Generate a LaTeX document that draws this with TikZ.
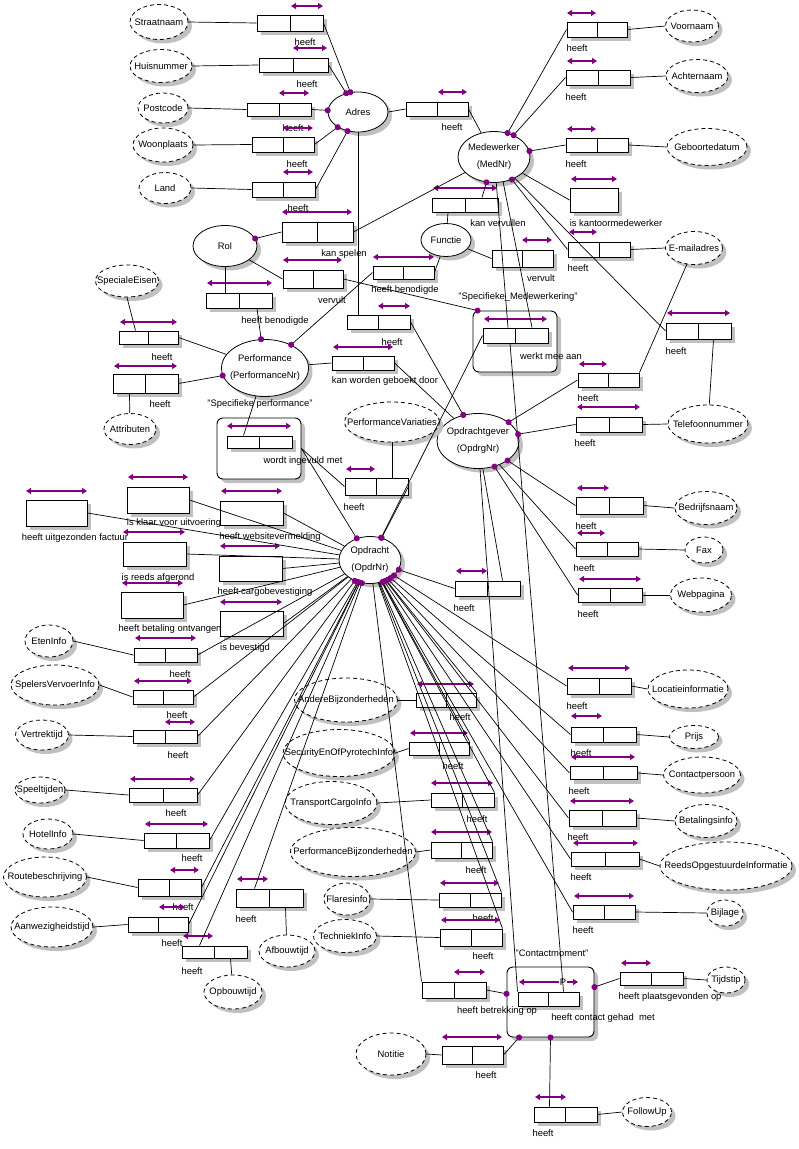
\documentclass[tikz,border=0pt]{standalone}
\usepackage{fontspec}
\setmainfont{Liberation Sans}
\usetikzlibrary{arrows.meta, shapes.geometric, shadows}
\definecolor{ormpurple}{RGB}{128,0,128}
\definecolor{ormshadow}{RGB}{192,192,192}
\newcommand{\nm}[1]{\makebox[0pt]{#1}}

\begin{document}
\begin{tikzpicture}[x=1pt, y=-1pt, wh/.style 2 args={minimum width=#1pt, minimum height=#2pt}]

    % Define block styles
    \tikzstyle{shadowed} = [drop shadow={shadow xshift=4pt, shadow yshift=-4pt, fill=ormshadow, opacity=1}]
    \tikzstyle{entitytype} = [ellipse, draw, fill=white, line width=0.8pt, inner sep=0pt,
        align=center, font=\fontsize{9.4}{17}\selectfont, shadowed]
    \tikzstyle{valuetype} = [entitytype, dash pattern=on 4pt off 3pt]
    \tikzstyle{fact} = [rectangle, draw, fill=white, line width=1pt, inner sep=0pt, shadowed,
        path picture={\draw [line width=1pt] (path picture bounding box.north) -- (path picture bounding box.south);}]
    \tikzstyle{unary} = [rectangle, draw, fill=white, line width=1pt, inner sep=0pt, shadowed]
    \tikzstyle{objfact} = [rectangle, draw, fill=white, rounded corners=6pt, line width=0.9pt, shadowed]
    \tikzstyle{lbl} = [inner sep=0pt, font=\fontsize{9.4}{10}\selectfont]
    \tikzstyle{uc} = [draw=ormpurple, line width=1.2pt, >={Triangle[length=5pt, width=6pt]}, <->]
    \tikzstyle{line} = [draw, line width=0.7pt]
    \tikzstyle{mand} = [line, arrows={-Circle[length=6pt, color=ormpurple, fill=ormpurple]}, shorten >=-3pt]

    \fill [white] (0,0) rectangle (799,1149);
    \useasboundingbox (0,0) rectangle (799,1149);

    % Entity types
    \node [entitytype, wh={60}{40}] (adres) at (358,112) {\nm{Adres}};
    \node [entitytype, wh={72}{51}] (medewerker) at (494,157) {\nm{Medewerker}\\\nm{(MedNr)}};
    \node [entitytype, wh={64}{41}] (rol) at (225,246) {\nm{Rol}};
    \node [entitytype, wh={50}{33}] (functie) at (446,240) {\nm{Functie}};
    \node [entitytype, wh={87}{57}] (performance) at (265,368) {\nm{Performance}\\\nm{(PerformanceNr)}};
    \node [entitytype, wh={82}{55}] (opdrachtgever) at (478,441) {\nm{Opdrachtgever}\\\nm{(OpdrgNr)}};
    \node [entitytype, wh={62}{47}] (opdracht) at (370,560) {\nm{Opdracht}\\\nm{(OpdrNr)}};

    % Value types
    \node [valuetype, wh={58}{35}] (vStraat) at (159,22) {\nm{Straatnaam}};
    \node [valuetype, wh={62}{33}] (vHuis) at (161,66) {\nm{Huisnummer}};
    \node [valuetype, wh={50}{30}] (vPost) at (163,108) {\nm{Postcode}};
    \node [valuetype, wh={60}{34}] (vWoon) at (163,145) {\nm{Woonplaats}};
    \node [valuetype, wh={52}{31}] (vLand) at (165,188) {\nm{Land}};
    \node [valuetype, wh={53}{32}] (vVoor) at (692,26) {\nm{Voornaam}};
    \node [valuetype, wh={62}{33}] (vAchter) at (697,76) {\nm{Achternaam}};
    \node [valuetype, wh={80}{37}] (vGeb) at (707,147) {\nm{Geboortedatum}};
    \node [valuetype, wh={57}{33}] (vMail) at (694,248) {\nm{E-mailadres}};
    \node [valuetype, wh={80}{38}] (vTel) at (708,424) {\nm{Telefoonnummer}};
    \node [valuetype, wh={63}{32}] (vSpec) at (127,281) {\nm{SpecialeEisen}};
    \node [valuetype, wh={52}{31}] (vAttr) at (130,429) {\nm{Attributen}};
    \node [valuetype, wh={95}{40}] (vVar) at (392,422) {\nm{PerformanceVariaties}};
    \node [valuetype, wh={62}{33}] (vBedrijf) at (706,508) {\nm{Bedrijfsnaam}};
    \node [valuetype, wh={38}{26}] (vFax) at (704,550) {\nm{Fax}};
    \node [valuetype, wh={61}{34}] (vWeb) at (701,595) {\nm{Webpagina}};
    \node [valuetype, wh={48}{32}] (vEten) at (49,641) {\nm{EtenInfo}};
    \node [valuetype, wh={88}{40}] (vSpelers) at (55,685) {\nm{SpelersVervoerInfo}};
    \node [valuetype, wh={53}{30}] (vVertrek) at (42,735) {\nm{Vertrektijd}};
    \node [valuetype, wh={50}{26}] (vSpeel) at (40,790) {\nm{Speeltijden}};
    \node [valuetype, wh={50}{30}] (vHotel) at (48,834) {\nm{HotelInfo}};
    \node [valuetype, wh={83}{40}] (vRoute) at (45,877) {\nm{Routebeschrijving}};
    \node [valuetype, wh={82}{40}] (vAanwezig) at (52,927) {\nm{Aanwezigheidstijd}};
    \node [valuetype, wh={58}{34}] (vOpbouw) at (233,992) {\nm{Opbouwtijd}};
    \node [valuetype, wh={56}{32}] (vAfbouw) at (287,951) {\nm{Afbouwtijd}};
    \node [valuetype, wh={103}{44}] (vAndere) at (346,700) {\nm{AndereBijzonderheden}};
    \node [valuetype, wh={112}{47}] (vSecurity) at (339,753) {\nm{SecurityEnOfPyrotechInfo}};
    \node [valuetype, wh={92}{43}] (vTransport) at (331,803) {\nm{TransportCargoInfo}};
    \node [valuetype, wh={125}{49}] (vPerfBij) at (353,852) {\nm{PerformanceBijzonderheden}};
    \node [valuetype, wh={46}{32}] (vFlares) at (347,899) {\nm{Flaresinfo}};
    \node [valuetype, wh={63}{33}] (vTechniek) at (345,936) {\nm{TechniekInfo}};
    \node [valuetype, wh={80}{38}] (vLocatie) at (688,689) {\nm{Locatieinformatie}};
    \node [valuetype, wh={49}{23}] (vPrijs) at (694,737) {\nm{Prijs}};
    \node [valuetype, wh={77}{36}] (vContact) at (702,775) {\nm{Contactpersoon}};
    \node [valuetype, wh={62}{33}] (vBetaling) at (706,821) {\nm{Betalingsinfo}};
    \node [valuetype, wh={132}{48}] (vReeds) at (726,866) {\nm{ReedsOpgestuurdeInformatie}};
    \node [valuetype, wh={36}{26}] (vBijlage) at (725,913) {\nm{Bijlage}};
    \node [valuetype, wh={38}{26}] (vTijdstip) at (726,980) {\nm{Tijdstip}};
    \node [valuetype, wh={70}{42}] (vNotitie) at (391,1054) {\nm{Notitie}};
    \node [valuetype, wh={49}{29}] (vFollow) at (647,1112) {\nm{FollowUp}};

    % Objectified fact types
    \node [objfact, wh={84}{61}] (specMw) at (515,341.5) {};
    \node [objfact, wh={84}{61}] (specPerf) at (259,448.5) {};
    \node [objfact, wh={87}{70}] (contactmoment) at (550.5,1002) {};
    \node [lbl] (tSpecMw) at (518,297) {"Specifieke\_Medewerkering"};
    \node [lbl] (tSpecPerf) at (260,404) {"Specifieke performance"};
    \node [lbl] (tContactmoment) at (552,953) {"Contactmoment"};

    % Fact types
    \node [fact, wh={66}{16}] (fStraat) at (290,23) {};
    \node [fact, wh={69}{14}] (fHuis) at (293.5,65) {};
    \node [fact, wh={64}{13}] (fPost) at (279,109.5) {};
    \node [fact, wh={62}{15}] (fWoon) at (283,144.5) {};
    \node [fact, wh={63}{15}] (fLand) at (283.5,189.5) {};
    \node [fact, wh={62}{14}] (fAdresMw) at (437,109) {};
    \node [fact, wh={60}{15}] (fVoor) at (597,29.5) {};
    \node [fact, wh={64}{15}] (fAchter) at (598,77.5) {};
    \node [fact, wh={62}{14}] (fGeb) at (597,145) {};
    \node [unary, wh={48}{24}] (uKantoor) at (594,200) {};
    \node [fact, wh={62}{15}] (fMailMw) at (599,249.5) {};
    \node [fact, wh={66}{14}] (fVervullen) at (465,205) {};
    \node [fact, wh={71}{20}] (fSpelen) at (317.5,232) {};
    \node [fact, wh={60}{18}] (fVervultRol) at (313,279) {};
    \node [fact, wh={61}{13}] (fBenFunctie) at (403.5,272.5) {};
    \node [fact, wh={66}{15}] (fBenRol) at (239,300.5) {};
    \node [fact, wh={61}{17}] (fVervultFn) at (522.5,258.5) {};
    \node [fact, wh={65}{16}] (fMwTel) at (698.5,331) {};
    \node [fact, wh={63}{14}] (fAdresOg) at (378.5,322) {};
    \node [fact, wh={59}{13}] (fSpec) at (148.5,337.5) {};
    \node [fact, wh={65}{19}] (fAttr) at (145.5,383.5) {};
    \node [fact, wh={62}{14}] (fGeboekt) at (363,363) {};
    \node [fact, wh={65}{12}] (fIngevuld) at (259.5,442) {};
    \node [fact, wh={63}{17}] (fVariaties) at (376.5,486.5) {};
    \node [fact, wh={65}{15}] (fMeeAan) at (515.5,335.5) {};
    \node [fact, wh={61}{14}] (fMailOg) at (608.5,380) {};
    \node [fact, wh={66}{15}] (fTelOg) at (609,424.5) {};
    \node [fact, wh={67}{17}] (fBedrijf) at (609.5,505.5) {};
    \node [fact, wh={62}{14}] (fFax) at (607,549) {};
    \node [fact, wh={64}{14}] (fWeb) at (610,595) {};
    \node [fact, wh={65}{15}] (fOpdrOg) at (487.5,588.5) {};
    \node [unary, wh={61}{26}] (uFactuur) at (56.5,513) {};
    \node [unary, wh={62}{26}] (uKlaar) at (158,500) {};
    \node [unary, wh={63}{24}] (uWebsite) at (251.5,513) {};
    \node [unary, wh={63}{24}] (uAfgerond) at (154.5,554) {};
    \node [unary, wh={63}{25}] (uCargo) at (250.5,568.5) {};
    \node [unary, wh={62}{26}] (uBetaling) at (152,605) {};
    \node [unary, wh={63}{25}] (uBevestigd) at (251.5,623.5) {};
    \node [fact, wh={63}{14}] (fEten) at (165.5,655) {};
    \node [fact, wh={60}{14}] (fSpelers) at (163,697) {};
    \node [fact, wh={64}{13}] (fVertrek) at (165,736.5) {};
    \node [fact, wh={68}{14}] (fSpeel) at (163,795) {};
    \node [fact, wh={65}{15}] (fHotel) at (176.5,840.5) {};
    \node [fact, wh={63}{17}] (fRoute) at (169.5,887.5) {};
    \node [fact, wh={60}{15}] (fAanwezig) at (158,924.5) {};
    \node [fact, wh={65}{12}] (fOpbouw) at (214.5,952) {};
    \node [fact, wh={67}{18}] (fAfbouw) at (269.5,898) {};
    \node [fact, wh={60}{14}] (fAndere) at (446,700) {};
    \node [fact, wh={60}{13}] (fSecurity) at (439,748.5) {};
    \node [fact, wh={63}{14}] (fTransport) at (462.5,800) {};
    \node [fact, wh={61}{16}] (fPerfBij) at (461.5,850) {};
    \node [fact, wh={62}{14}] (fFlares) at (470,900) {};
    \node [fact, wh={62}{17}] (fTechniek) at (471,937.5) {};
    \node [fact, wh={64}{16}] (fLocatie) at (599,686) {};
    \node [fact, wh={65}{15}] (fPrijs) at (603.5,734.5) {};
    \node [fact, wh={67}{13}] (fContact) at (603.5,773) {};
    \node [fact, wh={67}{16}] (fBetaling) at (602.5,818) {};
    \node [fact, wh={68}{14}] (fReeds) at (605,859) {};
    \node [fact, wh={62}{14}] (fBijlage) at (604,912) {};
    \node [fact, wh={61}{14}] (fContactGehad) at (548.5,999) {};
    \node [fact, wh={64}{16}] (fBetrekking) at (454,990) {};
    \node [fact, wh={63}{13}] (fTijdstip) at (651.5,978.5) {};
    \node [fact, wh={61}{18}] (fNotitie) at (472.5,1055) {};
    \node [fact, wh={63}{15}] (fFollow) at (565.5,1114.5) {};

    % Fact type readings
    \node [lbl] (tStraat) at (305,42) {heeft};
    \node [lbl] (tHuis) at (307,84) {heeft};
    \node [lbl] (tPost) at (293,128) {heeft};
    \node [lbl] (tWoon) at (297,164) {heeft};
    \node [lbl] (tLand) at (298,208) {heeft};
    \node [lbl] (tAdresMw) at (452,127) {heeft};
    \node [lbl] (tVoor) at (577,48) {heeft};
    \node [lbl] (tAchter) at (576,97) {heeft};
    \node [lbl] (tGeb) at (576,164) {heeft};
    \node [lbl] (tKantoor) at (616,223) {is kantoormedewerker};
    \node [lbl] (tMailMw) at (578,268) {heeft};
    \node [lbl] (tVervullen) at (498,223) {kan vervullen};
    \node [lbl] (tSpelen) at (344,254) {kan spelen};
    \node [lbl] (tVervultRol) at (332,300) {vervult};
    \node [lbl] (tBenFunctie) at (405,290) {heeft benodigde};
    \node [lbl] (tBenRol) at (275,321) {heeft benodigde};
    \node [lbl] (tVervultFn) at (541,278) {vervult};
    \node [lbl] (tMwTel) at (676,351) {heeft};
    \node [lbl] (tAdresOg) at (392,342) {heeft};
    \node [lbl] (tSpec) at (162,357) {heeft};
    \node [lbl] (tAttr) at (160,404) {heeft};
    \node [lbl] (tGeboekt) at (385,381) {kan worden geboekt door};
    \node [lbl] (tIngevuld) at (303,461) {wordt ingevuld met};
    \node [lbl] (tVariaties) at (354,507) {heeft};
    \node [lbl] (tMeeAan) at (551,356) {werkt mee aan};
    \node [lbl] (tMailOg) at (588,398) {heeft};
    \node [lbl] (tTelOg) at (585,443) {heeft};
    \node [lbl] (tBedrijf) at (586,526) {heeft};
    \node [lbl] (tFax) at (584,568) {heeft};
    \node [lbl] (tWeb) at (588,614) {heeft};
    \node [lbl] (tOpdrOg) at (464,608) {heeft};
    \node [lbl] (tFactuur) at (75,538) {heeft uitgezonden factuur};
    \node [lbl] (tKlaar) at (174,523) {is klaar voor uitvoering};
    \node [lbl] (tWebsite) at (270,537) {heeft websitevermelding};
    \node [lbl] (tAfgerond) at (158,578) {is reeds afgerond};
    \node [lbl] (tCargo) at (265,592) {heeft cargobevestiging};
    \node [lbl] (tBetaling) at (170,629) {heeft betaling ontvangen};
    \node [lbl] (tBevestigd) at (245,648) {is bevestigd};
    \node [lbl] (tEten) at (180,674) {heeft};
    \node [lbl] (tSpelers) at (177,715) {heeft};
    \node [lbl] (tVertrek) at (178,755) {heeft};
    \node [lbl] (tSpeel) at (176,813) {heeft};
    \node [lbl] (tHotel) at (192,858) {heeft};
    \node [lbl] (tRoute) at (183,907) {heeft};
    \node [lbl] (tAanwezig) at (172,943) {heeft};
    \node [lbl] (tOpbouw) at (192,971) {heeft};
    \node [lbl] (tAfbouw) at (246,919) {heeft};
    \node [lbl] (tAndere) at (460,717) {heeft};
    \node [lbl] (tSecurity) at (453,766) {heeft};
    \node [lbl] (tTransport) at (477,819) {heeft};
    \node [lbl] (tPerfBij) at (476,870) {heeft};
    \node [lbl] (tFlares) at (483,918) {heeft};
    \node [lbl] (tTechniek) at (483,956) {heeft};
    \node [lbl] (tLocatie) at (577,706) {heeft};
    \node [lbl] (tPrijs) at (581,753) {heeft};
    \node [lbl] (tContact) at (579,791) {heeft};
    \node [lbl] (tBetalingsinfo) at (578,837) {heeft};
    \node [lbl] (tReeds) at (581,877) {heeft};
    \node [lbl] (tBijlage) at (583,930) {heeft};
    \node [lbl] (tContactGehad) at (603,1018) {heeft contact gehad~ met};
    \node [lbl] (tBetrekking) at (497,1011) {heeft betrekking op};
    \node [lbl] (tTijdstip) at (670,997) {heeft plaatsgevonden op};
    \node [lbl] (tNotitie) at (486,1075) {heeft};
    \node [lbl] (tFollow) at (543,1133) {heeft};

    % Uniqueness constraints
    \path [uc] (291,6) -- (323,6);
    \path [uc] (293,48) -- (327,48);
    \path [uc] (279,93) -- (309,93);
    \path [uc] (283,128) -- (313,128);
    \path [uc] (283,172) -- (313,172);
    \path [uc] (438,92) -- (467,92);
    \path [uc] (567,13) -- (596,13);
    \path [uc] (567,61) -- (597,61);
    \path [uc] (567,129) -- (596,129);
    \path [uc] (571,179) -- (617,179);
    \path [uc] (569,232) -- (597,232);
    \path [uc] (433,188) -- (497,188);
    \path [uc] (282,212) -- (352,212);
    \path [uc] (283,260) -- (342,260);
    \path [uc] (373,257) -- (434,257);
    \path [uc] (207,283) -- (272,283);
    \path [uc] (522,240) -- (552,240);
    \path [uc] (667,313) -- (730,313);
    \path [uc] (378,306) -- (410,306);
    \path [uc] (120,322) -- (177,322);
    \path [uc] (114,366) -- (177,366);
    \path [uc] (333,347) -- (393,347);
    \path [uc] (227,426) -- (291,426);
    \path [uc] (346,469) -- (375,469);
    \path [uc] (484,319) -- (547,319);
    \path [uc] (579,364) -- (607,364);
    \path [uc] (577,407) -- (640,407);
    \path [uc] (577,488) -- (609,488);
    \path [uc] (577,533) -- (605,533);
    \path [uc] (579,579) -- (641,579);
    \path [uc] (456,571) -- (487,571);
    \path [uc] (26,491) -- (87,491);
    \path [uc] (128,477) -- (188,477);
    \path [uc] (221,491) -- (282,491);
    \path [uc] (123,532) -- (185,532);
    \path [uc] (220,546) -- (280,546);
    \path [uc] (122,583) -- (183,583);
    \path [uc] (220,602) -- (282,602);
    \path [uc] (135,638) -- (196,638);
    \path [uc] (134,681) -- (192,681);
    \path [uc] (165,722) -- (195,722);
    \path [uc] (130,779) -- (195,779);
    \path [uc] (145,824) -- (208,824);
    \path [uc] (170,870) -- (199,870);
    \path [uc] (159,907) -- (185,907);
    \path [uc] (183,936) -- (213,936);
    \path [uc] (237,879) -- (268,879);
    \path [uc] (417,684) -- (474,684);
    \path [uc] (410,733) -- (468,733);
    \path [uc] (431,783) -- (493,783);
    \path [uc] (431,832) -- (492,832);
    \path [uc] (440,883) -- (499,883);
    \path [uc] (441,920) -- (500,920);
    \path [uc] (568,668) -- (630,668);
    \path [uc] (571,716) -- (602,716);
    \path [uc] (571,757) -- (635,757);
    \path [uc] (570,801) -- (634,801);
    \path [uc] (573,843) -- (638,843);
    \path [uc] (574,896) -- (634,896);
    \path [uc] (519,982) -- (578,982);
    \node [lbl, fill=white, inner sep=1pt] (tP) at (563,982) {P};
    \path [uc] (454,972) -- (485,972);
    \path [uc] (621,963) -- (651,963);
    \path [uc] (442,1037) -- (502,1037);
    \path [uc] (535,1097) -- (566,1097);

    % Draw edges: Adres
    \path [line] (vStraat.east) -- (fStraat.west);
    \path [mand] (fStraat.east) -- (adres);
    \path [line] (vHuis.east) -- (fHuis.west);
    \path [mand] (fHuis.east) -- (adres);
    \path [line] (vPost.east) -- (fPost.west);
    \path [mand] (fPost.east) -- (adres);
    \path [line] (vWoon.east) -- (fWoon.west);
    \path [mand] (fWoon.east) -- (adres);
    \path [line] (vLand.east) -- (fLand.west);
    \path [mand] (fLand.east) -- (adres);
    \path [line] (adres.east) -- (fAdresMw.west);
    \path [line] (fAdresMw.east) -- (medewerker);
    \path [line] (adres.south) -- (adres.south |- fAdresOg.north);
    \path [mand] (fAdresOg.east) -- (opdrachtgever);

    % Draw edges: Medewerker, Rol, Functie
    \path [line] (fVoor.east) -- (vVoor.west);
    \path [mand] (fVoor.west) -- (medewerker);
    \path [line] (fAchter.east) -- (vAchter.west);
    \path [mand] (fAchter.west) -- (medewerker);
    \path [line] (fGeb.east) -- (vGeb.west);
    \path [mand] (fGeb.west) -- (medewerker);
    \path [line] (uKantoor.west) -- (medewerker);
    \path [line] (fMailMw.east) -- (vMail.west);
    \path [mand] (fMailMw.west) -- (medewerker);
    \path [line] (fMwTel.west) -- (medewerker);
    \path [line] ([xshift=15pt]fMwTel.south) -- (vTel);
    \path [mand] ([xshift=17pt]fVervullen.north) -- (medewerker);
    \path [line] ([xshift=-17pt]fVervullen.south) -- (functie);
    \path [line] (fSpelen.east) -- (medewerker);
    \path [mand] (fSpelen.west) -- (rol);
    \path [line] (fVervultRol.west) -- (rol);
    \path [mand] (fVervultRol.east) -- ([xshift=5pt]specMw.north west);
    \path [line] (fBenFunctie.east) -- (functie);
    \path [mand] (fBenFunctie.west) -- (performance);
    \path [line] (rol.south) -- (rol.south |- fBenRol.north);
    \path [mand] ([xshift=18pt]fBenRol.south) -- (performance);
    \path [line] (functie) -- (fVervultFn.west);
    \path [line] (medewerker.275) -- ([xshift=-7.5pt]fMeeAan.north);
    \path [line] (medewerker.290) -- ([xshift=16.5pt]fMeeAan.north);

    % Draw edges: Performance
    \path [line] (vSpec.south) -- ([xshift=-13pt]fSpec.north);
    \path [line] (fSpec.east) -- (performance);
    \path [mand] (fAttr.east) -- (performance);
    \path [line] ([xshift=-16pt]fAttr.south) -- (vAttr);
    \path [line] (performance) -- (fGeboekt.west);
    \path [line] (fGeboekt.east) -- (opdrachtgever);
    \path [line] (performance) -- ([xshift=-16pt]fIngevuld.north);
    \path [mand] (specPerf.east) -- (opdracht);
    \path [line] (specPerf.east) -- (fVariaties.west);
    \path [line] (vVar.south) -- (vVar.south |- fVariaties.north);
    \path [mand] (fVariaties.east) -- (opdracht);
    \path [mand] (fMeeAan.west) -- (opdracht);
    \path [line] ([xshift=-5.5pt]fMeeAan.south) -- ([xshift=15pt]fContactGehad.north);

    % Draw edges: Opdrachtgever
    \path [mand] (fMailOg.west) -- (opdrachtgever);
    \path [line] (fMailOg.north east) -- (vMail);
    \path [mand] (fTelOg.west) -- (opdrachtgever);
    \path [line] (fTelOg.east) -- (vTel.west);
    \path [mand] (fBedrijf.west) -- (opdrachtgever);
    \path [line] (fBedrijf.east) -- (vBedrijf.west);
    \path [line] (fFax.west) -- (opdrachtgever);
    \path [line] (fFax.east) -- (vFax.west);
    \path [mand] (fWeb.west) -- (opdrachtgever);
    \path [line] (fWeb.east) -- (vWeb.west);
    \path [line] ([xshift=15pt]fOpdrOg.north) -- (opdrachtgever);
    \path [mand] (fOpdrOg.west) -- (opdracht);
    \path [line] (fContactGehad.north west) -- (opdrachtgever);

    % Draw edges: Opdracht
    \path [line] (uFactuur.east) -- (opdracht);
    \path [line] (uKlaar.east) -- (opdracht);
    \path [line] (uWebsite.east) -- (opdracht);
    \path [line] (uAfgerond.east) -- (opdracht);
    \path [line] (uCargo.east) -- (opdracht);
    \path [line] (uBetaling.east) -- (opdracht);
    \path [line] (uBevestigd.east) -- (opdracht);
    \path [line] (vEten.east) -- (fEten.west);
    \path [line] (fEten.east) -- (opdracht);
    \path [line] (vSpelers.east) -- (fSpelers.west);
    \path [line] (fSpelers.east) -- (opdracht);
    \path [line] (vVertrek.east) -- (fVertrek.west);
    \path [line] (fVertrek.east) -- (opdracht);
    \path [line] (vSpeel.east) -- (fSpeel.west);
    \path [mand] (fSpeel.east) -- (opdracht);
    \path [line] (vHotel.east) -- (fHotel.west);
    \path [mand] (fHotel.east) -- (opdracht);
    \path [line] (vRoute.east) -- (fRoute.west);
    \path [line] (fRoute.east) -- (opdracht);
    \path [line] (vAanwezig.east) -- (fAanwezig.west);
    \path [mand] (fAanwezig.east) -- (opdracht);
    \path [line] ([xshift=16pt]fOpbouw.south) -- (vOpbouw);
    \path [line] ([xshift=-15pt]fOpbouw.north) -- (opdracht);
    \path [line] ([xshift=16pt]fAfbouw.south) -- (vAfbouw);
    \path [mand] ([xshift=-15pt]fAfbouw.north) -- (opdracht);
    \path [line] (vAndere.east) -- (fAndere.west);
    \path [line] (fAndere.north east) -- (opdracht);
    \path [line] (vSecurity.east) -- (fSecurity.west);
    \path [line] (fSecurity.north east) -- (opdracht);
    \path [line] (vTransport.east) -- (fTransport.west);
    \path [line] (fTransport.north east) -- (opdracht);
    \path [line] (vPerfBij.east) -- (fPerfBij.west);
    \path [line] (fPerfBij.north east) -- (opdracht);
    \path [line] (vFlares.east) -- (fFlares.west);
    \path [line] (fFlares.north east) -- (opdracht);
    \path [line] (vTechniek.east) -- (fTechniek.west);
    \path [line] (fTechniek.north east) -- (opdracht);
    \path [mand] (fLocatie.west) -- (opdracht);
    \path [line] (fLocatie.east) -- (vLocatie.west);
    \path [mand] (fPrijs.west) -- (opdracht);
    \path [line] (fPrijs.east) -- (vPrijs.west);
    \path [mand] (fContact.west) -- (opdracht);
    \path [line] (fContact.east) -- (vContact.west);
    \path [mand] (fBetaling.west) -- (opdracht);
    \path [line] (fBetaling.east) -- (vBetaling.west);
    \path [mand] (fReeds.west) -- (opdracht);
    \path [line] (fReeds.east) -- (vReeds.west);
    \path [mand] (fBijlage.west) -- (opdracht);
    \path [line] (fBijlage.east) -- (vBijlage.west);

    % Draw edges: Contactmoment
    \path [line] (fBetrekking.north west) -- (opdracht);
    \path [mand] (fBetrekking.east) -- (contactmoment);
    \path [mand] (fTijdstip.west) -- (contactmoment);
    \path [line] (fTijdstip.east) -- (vTijdstip.west);
    \path [line] (vNotitie.east) -- (fNotitie.west);
    \path [mand] (fNotitie.east) -- (contactmoment);
    \path [mand] ([xshift=-16pt]fFollow.north) -- (contactmoment.south);
    \path [line] (fFollow.east) -- (vFollow.west);

\end{tikzpicture}
\end{document}
